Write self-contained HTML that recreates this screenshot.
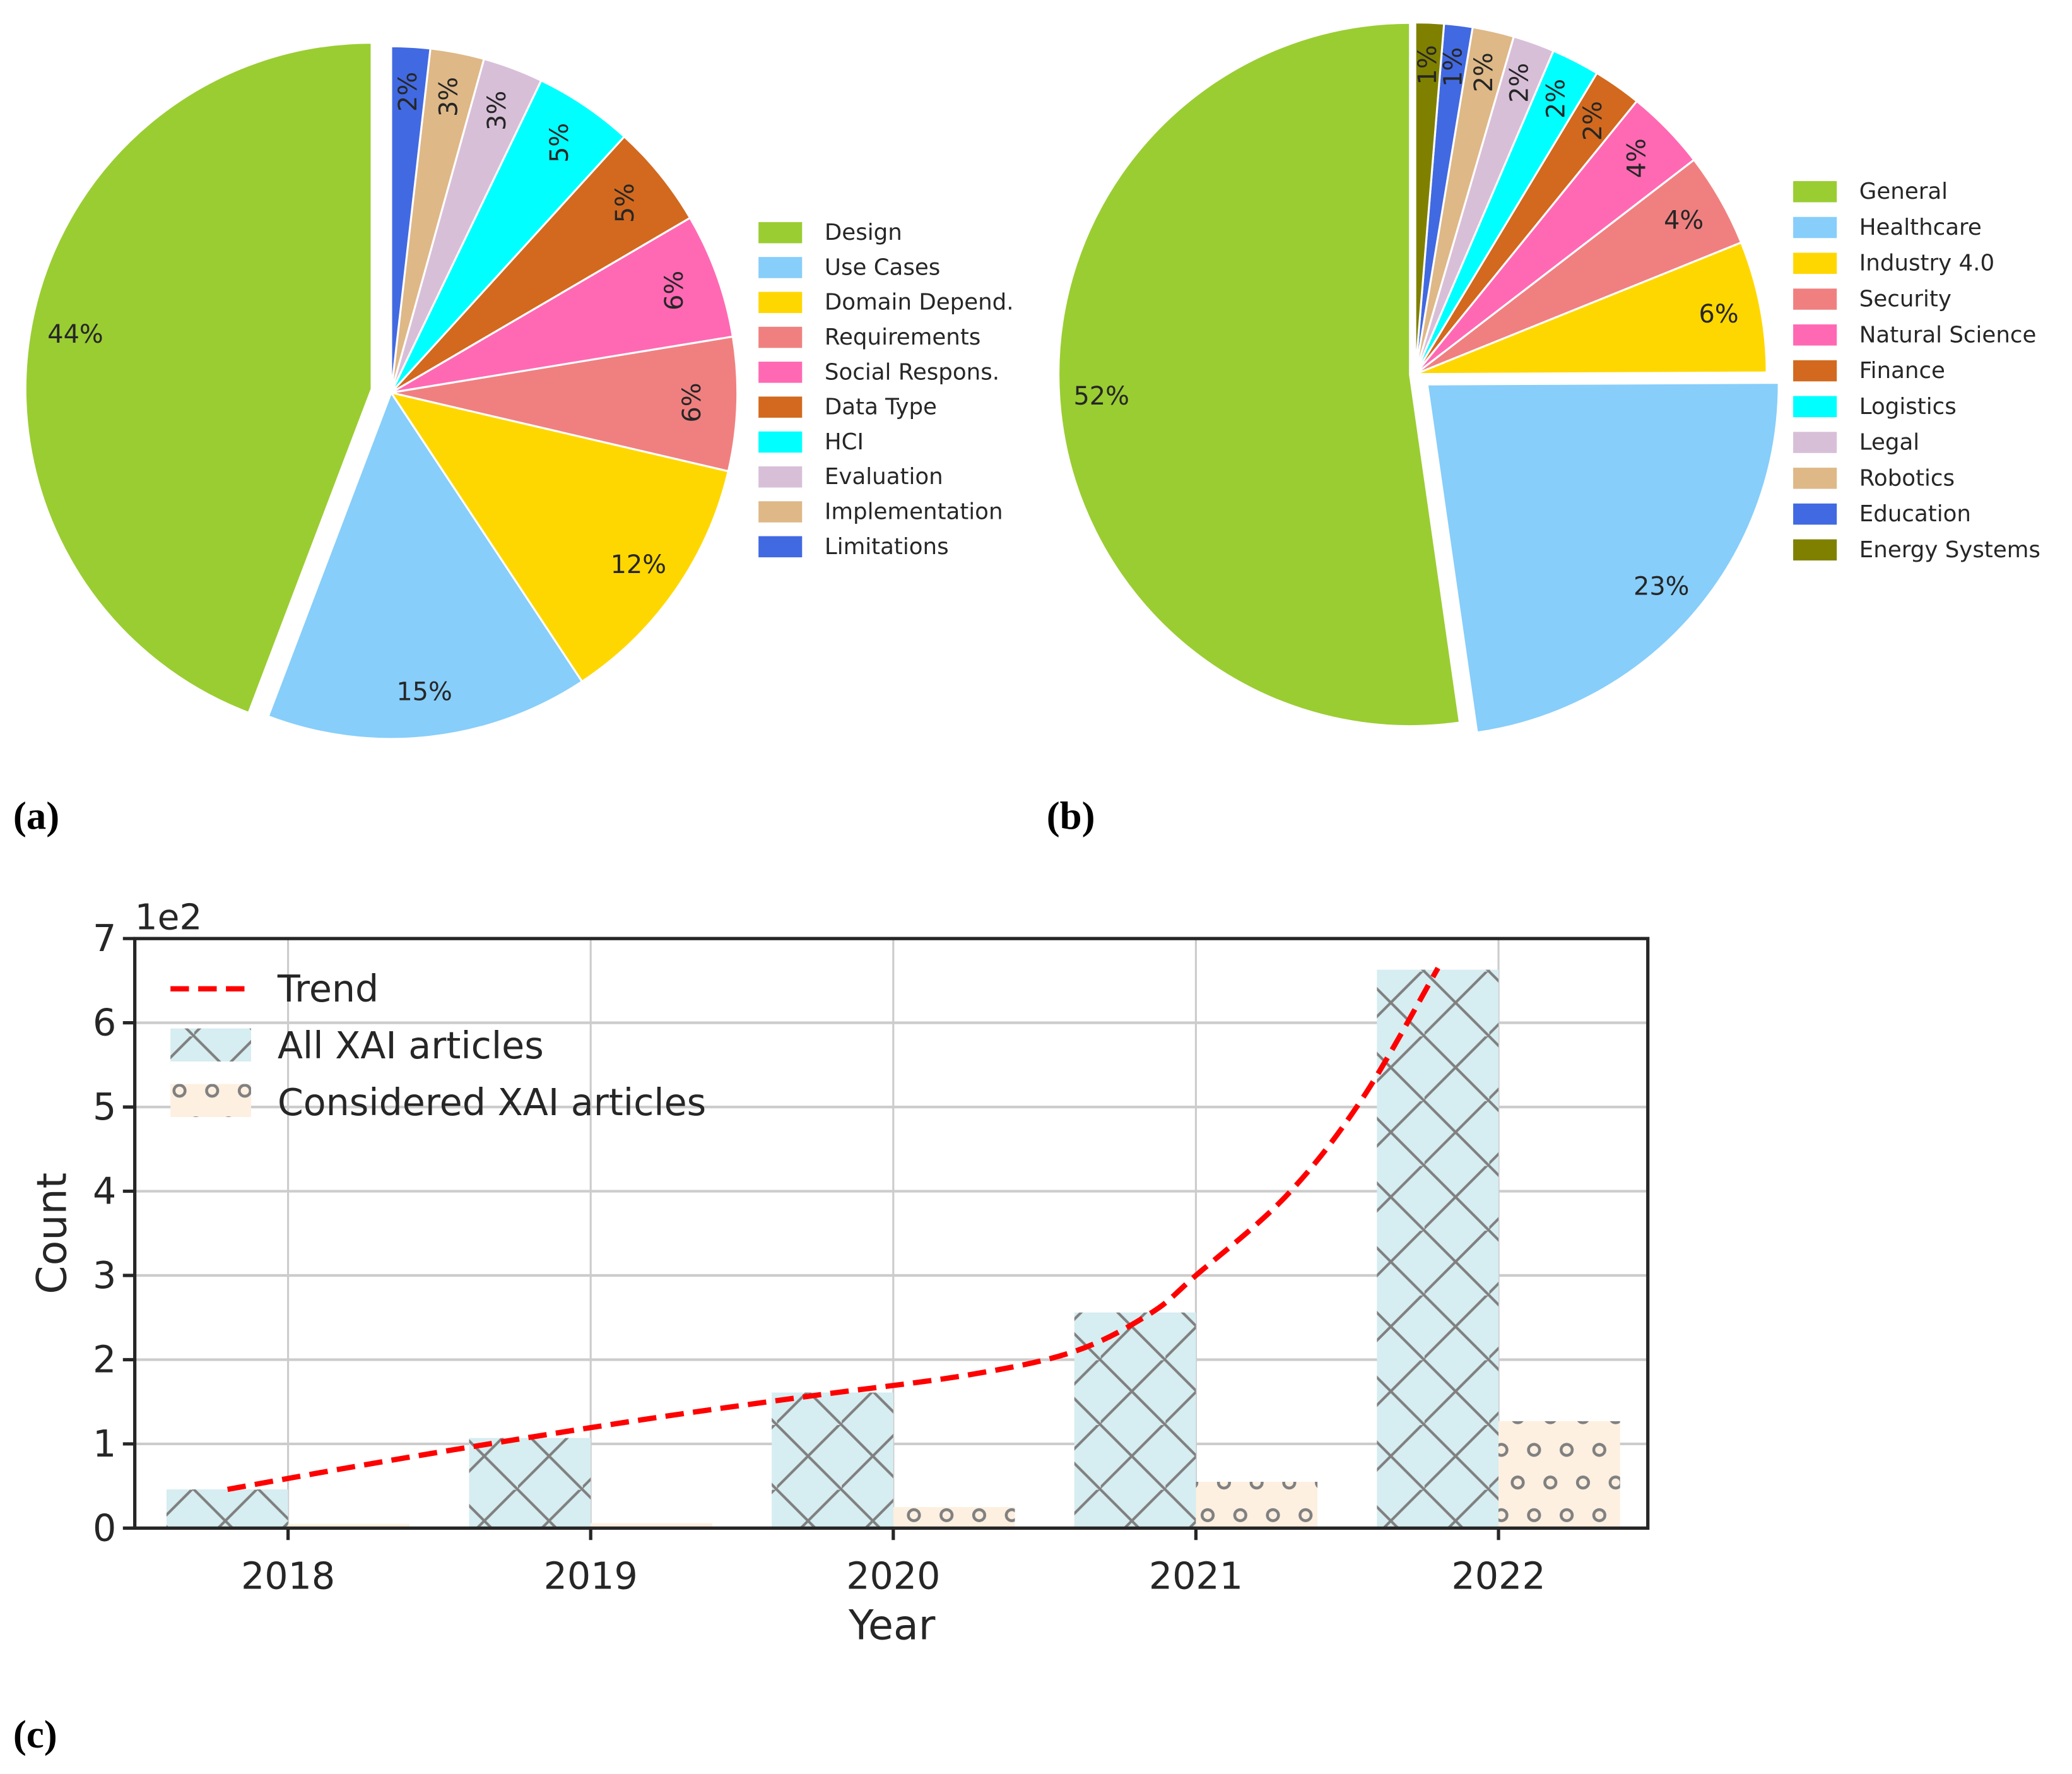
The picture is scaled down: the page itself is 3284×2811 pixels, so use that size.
<!DOCTYPE html>
<html><head><meta charset="utf-8">
<style>
html,body{margin:0;padding:0;background:#fff;}
svg{display:block;}
text{font-family:"DejaVu Sans","Liberation Sans",sans-serif;fill:#262626;}
.serif{font-family:"Liberation Serif","DejaVu Serif",serif;fill:#000;font-weight:bold;}
</style></head>
<body>
<svg id="root" width="3284" height="2811" viewBox="0 0 1568 1342" preserveAspectRatio="none" xmlns="http://www.w3.org/2000/svg">
<defs>
<pattern id="xhatch" patternUnits="userSpaceOnUse" width="49" height="49" x="0" y="0">
<rect width="49" height="49" fill="#d6edf1"/>
<path d="M-1,-1 L50,50 M-1,48 L48,-1 M24,-25 L74,25 M-25,24 L25,74 M24,74 L74,24 M-25,25 L25,-25" stroke="#808080" stroke-width="2" fill="none"/>
</pattern>
<pattern id="ohatch" patternUnits="userSpaceOnUse" width="24.7" height="49.4" x="0" y="0">
<rect width="24.7" height="49.4" fill="#fdf0e1"/>
<circle cx="0" cy="10" r="4.2" stroke="#808080" stroke-width="2.2" fill="none"/>
<circle cx="24.7" cy="10" r="4.2" stroke="#808080" stroke-width="2.2" fill="none"/>
<circle cx="12.35" cy="34.7" r="4.2" stroke="#808080" stroke-width="2.2" fill="none"/>
</pattern>
</defs>
<g id="pieA"></g>
<g id="legA"></g>
<g id="pieB"></g>
<g id="legB"></g>
<text class="serif" x="10" y="627" font-size="30">(a)</text>
<text class="serif" x="792" y="627" font-size="30">(b)</text>
<text class="serif" x="10" y="1322" font-size="30">(c)</text>
<g id="bar"></g>
</svg>
<script>
// ---- pie a data ----
const catsA = ["Design","Use Cases","Domain Depend.","Requirements","Social Respons.","Data Type","HCI","Evaluation","Implementation","Limitations"];
const valsA = [44,15,12,6.2,5.8,4.8,4.6,2.8,2.5,1.8];
const labelsA = ["44%","15%","12%","6%","6%","5%","5%","3%","3%","2%"];
const colorsA = ["#9acd32","#87cefa","#ffd700","#f08080","#ff69b4","#d2691e","#00ffff","#d8bfd8","#deb887","#4169e1"];
const explodeA = [15,0,0,0,0,0,0,0,0,0];
const rotA = [0,0,0,1,1,1,1,1,1,1];
// ---- pie b data ----
const catsB = ["General","Healthcare","Industry 4.0","Security","Natural Science","Finance","Logistics","Legal","Robotics","Education","Energy Systems"];
const valsB = [52,22.7,6,4.3,3.7,2.2,2.2,1.9,1.9,1.3,1.3];
const labelsB = ["52%","23%","6%","4%","4%","2%","2%","2%","2%","1%","1%"];
const colorsB = ["#9acd32","#87cefa","#ffd700","#f08080","#ff69b4","#d2691e","#00ffff","#d8bfd8","#deb887","#4169e1","#808000"];
const explodeB = [4,12,0,0,0,0,0,0,0,0,0];
const rotB = [0,0,0,0,1,1,1,1,1,1,1];
// ---- bar chart data ----
const years = [2018,2019,2020,2021,2022];
const allXai = [0.46,1.07,1.61,2.56,6.63];
const considered = [0.05,0.06,0.25,0.55,1.27];
const trendX = [2017.8,2018.25,2018.75,2019.25,2019.75,2020.25,2020.6,2020.85,2021.0,2021.3,2021.55,2021.8];
const trendY = [0.46,0.75,1.05,1.33,1.58,1.82,2.1,2.55,3.0,3.95,5.1,6.65];
const yTicks = [0,1,2,3,4,5,6,7];

const NS="http://www.w3.org/2000/svg";
function mk(tag,attrs,parent){const e=document.createElementNS(NS,tag);for(const k in attrs)e.setAttribute(k,attrs[k]);parent.appendChild(e);return e;}

function drawPie(g,vals,labels,colors,explode,rot,cx,cy,r,pd){
  const tot=vals.reduce((a,b)=>a+b,0);
  let a0=90;
  vals.forEach((v,i)=>{
    const a1=a0+v/tot*360, mid=(a0+a1)/2*Math.PI/180;
    const ox=cx+explode[i]*Math.cos(mid), oy=cy-explode[i]*Math.sin(mid);
    const p0=[ox+r*Math.cos(a0*Math.PI/180),oy-r*Math.sin(a0*Math.PI/180)];
    const p1=[ox+r*Math.cos(a1*Math.PI/180),oy-r*Math.sin(a1*Math.PI/180)];
    const large=(a1-a0)>180?1:0;
    const p=mk('path',{d:`M${ox},${oy} L${p0[0]},${p0[1]} A${r},${r} 0 ${large} 0 ${p1[0]},${p1[1]} Z`,fill:colors[i],stroke:'#fff','stroke-width':1.5},g);
    
    
    const lx=ox+pd*r*Math.cos(mid), ly=oy-pd*r*Math.sin(mid);
    const t=mk('text',{x:lx,y:ly,'font-size':19,'text-anchor':'middle','dominant-baseline':'central'},g);
    if(rot[i]) t.setAttribute('transform',`rotate(-90 ${lx} ${ly})`);
    t.textContent=labels[i];
    
    
    a0=a1;
  });
}
function drawLegend(g,cats,colors,x,y0,step){
  cats.forEach((c,i)=>{
    const y=y0+i*step;
    const r=mk('rect',{x:x,y:y-8,width:33,height:16,fill:colors[i]},g);
    
    
    const t=mk('text',{x:x+50,y:y,'font-size':17,'dominant-baseline':'central'},g);
    t.textContent=c;
    
    
  });
}
drawPie(document.getElementById('pieA'),valsA,labelsA,colorsA,explodeA,rotA,296,297,262,0.87);
drawLegend(document.getElementById('legA'),catsA,colorsA,574,176,26.4);
drawPie(document.getElementById('pieB'),valsB,labelsB,colorsB,explodeB,rotB,1071,283,266,0.88);
drawLegend(document.getElementById('legB'),catsB,colorsB,1357,145,27.1);

// bar chart
const g=document.getElementById('bar');
const L=102,R=1247,T=710,B=1156;
const xs=yr=>218+(yr-2018)*229;
const ys=v=>B-(v/7)*(B-T);
yTicks.forEach(v=>{
  if(v>0&&v<7){const l=mk('line',{x1:L,x2:R,y1:ys(v),y2:ys(v),stroke:'#cccccc','stroke-width':2},g);
  }
  const tk=mk('line',{x1:L-9,x2:L,y1:ys(v),y2:ys(v),stroke:'#262626','stroke-width':2.5},g);
  
  const t=mk('text',{x:L-14,y:ys(v),'font-size':28,'text-anchor':'end','dominant-baseline':'central'},g);
  t.textContent=v;
  
});
years.forEach(y=>{
  const l=mk('line',{x1:xs(y),x2:xs(y),y1:T,y2:B,stroke:'#cccccc','stroke-width':1.5},g);
  
});
const bw=92;
years.forEach((y,i)=>{
  const b1=mk('rect',{x:xs(y)-bw,y:ys(allXai[i]),width:bw,height:B-ys(allXai[i]),fill:'url(#xhatch)'},g);
  
  const b2=mk('rect',{x:xs(y),y:ys(considered[i]),width:bw,height:B-ys(considered[i]),fill:'url(#ohatch)'},g);
  
});
const pts=trendX.map((x,i)=>[xs(x),ys(trendY[i])]);
let d=`M${pts[0][0]},${pts[0][1]}`;
for(let i=0;i<pts.length-1;i++){
  const p0=pts[Math.max(0,i-1)],p1=pts[i],p2=pts[i+1],p3=pts[Math.min(pts.length-1,i+2)];
  d+=` C${p1[0]+(p2[0]-p0[0])/6},${p1[1]+(p2[1]-p0[1])/6} ${p2[0]-(p3[0]-p1[0])/6},${p2[1]-(p3[1]-p1[1])/6} ${p2[0]},${p2[1]}`;
}
const tr=mk('path',{d:d,fill:'none',stroke:'#ff0000','stroke-width':4,'stroke-dasharray':'14 7'},g);

const fr=mk('rect',{x:L,y:T,width:R-L,height:B-T,fill:'none',stroke:'#262626','stroke-width':2.5},g);

years.forEach(y=>{
  const tk=mk('line',{x1:xs(y),x2:xs(y),y1:B,y2:B+9,stroke:'#262626','stroke-width':2.5},g);
  
  const t=mk('text',{x:xs(y),y:B+46,'font-size':28,'text-anchor':'middle'},g);
  t.textContent=y;
  
});
const ex=mk('text',{x:L,y:703,'font-size':27},g);ex.textContent='1e2';

const xl=mk('text',{x:675,y:1240,'font-size':31,'text-anchor':'middle'},g);xl.textContent='Year';

const yl=mk('text',{x:50,y:933,'font-size':31,'text-anchor':'middle',transform:'rotate(-90 50 933)'},g);yl.textContent='Count';

const lg=mk('g',{},g);

const ll=mk('line',{x1:129,x2:190,y1:748,y2:748,stroke:'#ff0000','stroke-width':4,'stroke-dasharray':'14 7'},lg);

const lr1=mk('rect',{x:129,y:778,width:61,height:25,fill:'url(#xhatch)'},lg);

const lr2=mk('rect',{x:129,y:820,width:61,height:25,fill:'url(#ohatch)'},lg);

[['Trend',748],['All XAI articles',791],['Considered XAI articles',834]].forEach(([s,y])=>{
  const t=mk('text',{x:210,y:y,'font-size':28,'dominant-baseline':'central'},lg);t.textContent=s;
  
});
</script>
</body></html>
